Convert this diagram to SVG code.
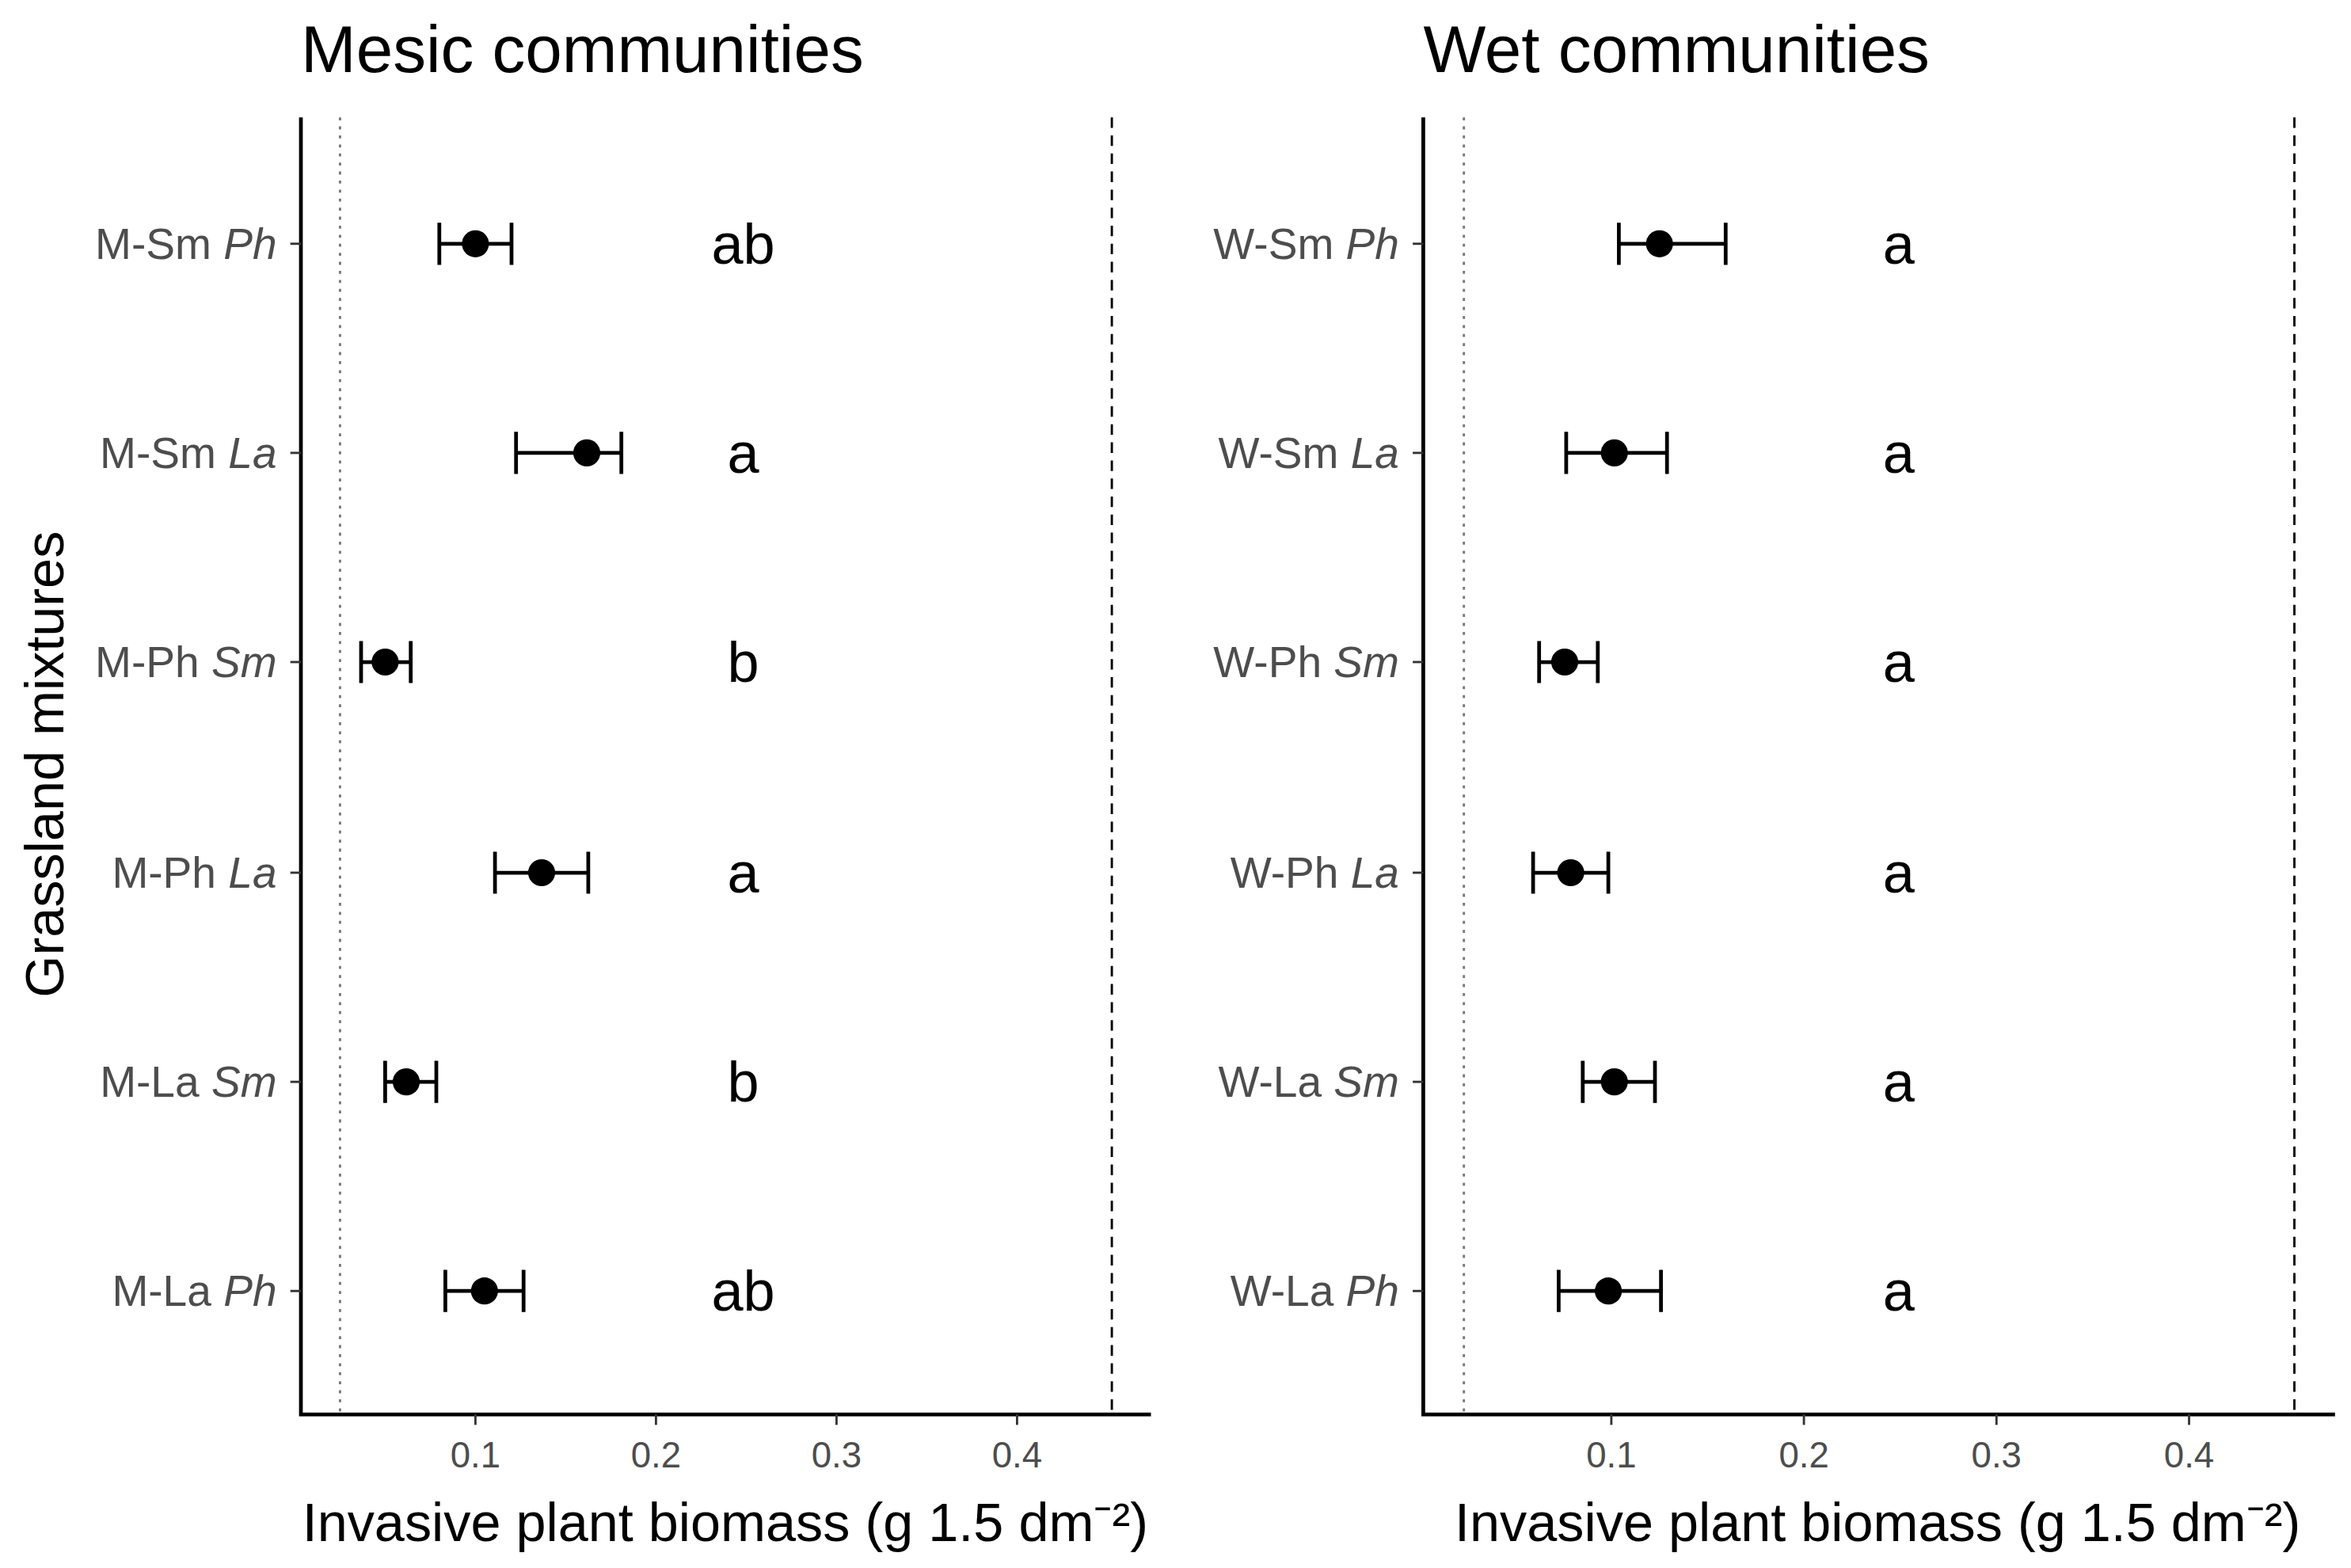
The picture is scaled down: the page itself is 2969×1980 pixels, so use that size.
<svg xmlns="http://www.w3.org/2000/svg" width="2969" height="1980" viewBox="0 0 2969 1980">
<style>
text{font-family:"Liberation Sans",Arial,sans-serif}
.title{font-size:44px;fill:#000}
.ylab{font-size:29px;fill:#4d4d4d;text-anchor:end}
.xlab{font-size:24px;fill:#4d4d4d;text-anchor:middle}
.let{font-size:38px;fill:#000;text-anchor:middle}
.atitle{font-size:36px;fill:#000;text-anchor:middle}
.axis{stroke:#000;stroke-width:2.5;fill:none}
.tick{stroke:#333;stroke-width:1.5}
.dot{stroke:#777;stroke-width:1.5;stroke-dasharray:2 4}
.dash{stroke:#000;stroke-width:1.5;stroke-dasharray:7 5}
.eb{stroke:#000;stroke-width:2.5;fill:none}
</style>
<rect width="2969" height="1980" fill="#fff"/>
<g transform="scale(1.9)">
<text class="atitle" transform="translate(42,508) rotate(-90)">Grassland mixtures</text>
<g id="mesic">
<text class="title" x="200" y="48">Mesic communities</text>
<path class="axis" d="M200,78V940H765"/>
<line class="dot" x1="226" y1="78" x2="226" y2="940"/>
<line class="dash" x1="739" y1="78" x2="739" y2="940"/>
<g class="tick"><line x1="193" y1="162" x2="200" y2="162"/><line x1="193" y1="301" x2="200" y2="301"/><line x1="193" y1="440" x2="200" y2="440"/><line x1="193" y1="580" x2="200" y2="580"/><line x1="193" y1="719" x2="200" y2="719"/><line x1="193" y1="858" x2="200" y2="858"/>
<line x1="316" y1="940" x2="316" y2="947"/><line x1="436" y1="940" x2="436" y2="947"/><line x1="556" y1="940" x2="556" y2="947"/><line x1="676" y1="940" x2="676" y2="947"/></g>
<text class="xlab" x="316" y="975">0.1</text><text class="xlab" x="436" y="975">0.2</text><text class="xlab" x="556" y="975">0.3</text><text class="xlab" x="676" y="975">0.4</text>
<text class="ylab" x="184" y="172">M-Sm <tspan font-style="italic">Ph</tspan></text>
<text class="ylab" x="184" y="311">M-Sm <tspan font-style="italic">La</tspan></text>
<text class="ylab" x="184" y="450">M-Ph <tspan font-style="italic">Sm</tspan></text>
<text class="ylab" x="184" y="590">M-Ph <tspan font-style="italic">La</tspan></text>
<text class="ylab" x="184" y="729">M-La <tspan font-style="italic">Sm</tspan></text>
<text class="ylab" x="184" y="868">M-La <tspan font-style="italic">Ph</tspan></text>
<g class="eb">
<path d="M292,162H340M292,148V176M340,148V176"/>
<path d="M343,301H413M343,287V315M413,287V315"/>
<path d="M240,440H273M240,426V454M273,426V454"/>
<path d="M329,580H391M329,566V594M391,566V594"/>
<path d="M256,719H290M256,705V733M290,705V733"/>
<path d="M296,858H348M296,844V872M348,844V872"/>
</g>
<g fill="#000"><circle cx="316" cy="162" r="9"/><circle cx="390" cy="301" r="9"/><circle cx="256" cy="440" r="9"/><circle cx="360" cy="580" r="9"/><circle cx="270" cy="719" r="9"/><circle cx="322" cy="858" r="9"/></g>
<text class="let" x="494" y="175">ab</text><text class="let" x="494" y="314">a</text><text class="let" x="494" y="453">b</text><text class="let" x="494" y="593">a</text><text class="let" x="494" y="732">b</text><text class="let" x="494" y="871">ab</text>
<text class="atitle" x="482" y="1024">Invasive plant biomass (g 1.5 dm⁻²)</text>
</g>
<g id="wet">
<text class="title" x="946" y="48">Wet communities</text>
<path class="axis" d="M946,78V940H1552"/>
<line class="dot" x1="973" y1="78" x2="973" y2="940"/>
<line class="dash" x1="1525" y1="78" x2="1525" y2="940"/>
<g class="tick"><line x1="939" y1="162" x2="946" y2="162"/><line x1="939" y1="301" x2="946" y2="301"/><line x1="939" y1="440" x2="946" y2="440"/><line x1="939" y1="580" x2="946" y2="580"/><line x1="939" y1="719" x2="946" y2="719"/><line x1="939" y1="858" x2="946" y2="858"/>
<line x1="1071" y1="940" x2="1071" y2="947"/><line x1="1199" y1="940" x2="1199" y2="947"/><line x1="1327" y1="940" x2="1327" y2="947"/><line x1="1455" y1="940" x2="1455" y2="947"/></g>
<text class="xlab" x="1071" y="975">0.1</text><text class="xlab" x="1199" y="975">0.2</text><text class="xlab" x="1327" y="975">0.3</text><text class="xlab" x="1455" y="975">0.4</text>
<text class="ylab" x="930" y="172">W-Sm <tspan font-style="italic">Ph</tspan></text>
<text class="ylab" x="930" y="311">W-Sm <tspan font-style="italic">La</tspan></text>
<text class="ylab" x="930" y="450">W-Ph <tspan font-style="italic">Sm</tspan></text>
<text class="ylab" x="930" y="590">W-Ph <tspan font-style="italic">La</tspan></text>
<text class="ylab" x="930" y="729">W-La <tspan font-style="italic">Sm</tspan></text>
<text class="ylab" x="930" y="868">W-La <tspan font-style="italic">Ph</tspan></text>
<g class="eb">
<path d="M1076,162H1147M1076,148V176M1147,148V176"/>
<path d="M1041,301H1108M1041,287V315M1108,287V315"/>
<path d="M1023,440H1062M1023,426V454M1062,426V454"/>
<path d="M1019,580H1069M1019,566V594M1069,566V594"/>
<path d="M1052,719H1100M1052,705V733M1100,705V733"/>
<path d="M1036,858H1104M1036,844V872M1104,844V872"/>
</g>
<g fill="#000"><circle cx="1103" cy="162" r="9"/><circle cx="1073" cy="301" r="9"/><circle cx="1040" cy="440" r="9"/><circle cx="1044" cy="580" r="9"/><circle cx="1073" cy="719" r="9"/><circle cx="1069" cy="858" r="9"/></g>
<text class="let" x="1262" y="175">a</text><text class="let" x="1262" y="314">a</text><text class="let" x="1262" y="453">a</text><text class="let" x="1262" y="593">a</text><text class="let" x="1262" y="732">a</text><text class="let" x="1262" y="871">a</text>
<text class="atitle" x="1248" y="1024">Invasive plant biomass (g 1.5 dm⁻²)</text>
</g>
</g>
</svg>
